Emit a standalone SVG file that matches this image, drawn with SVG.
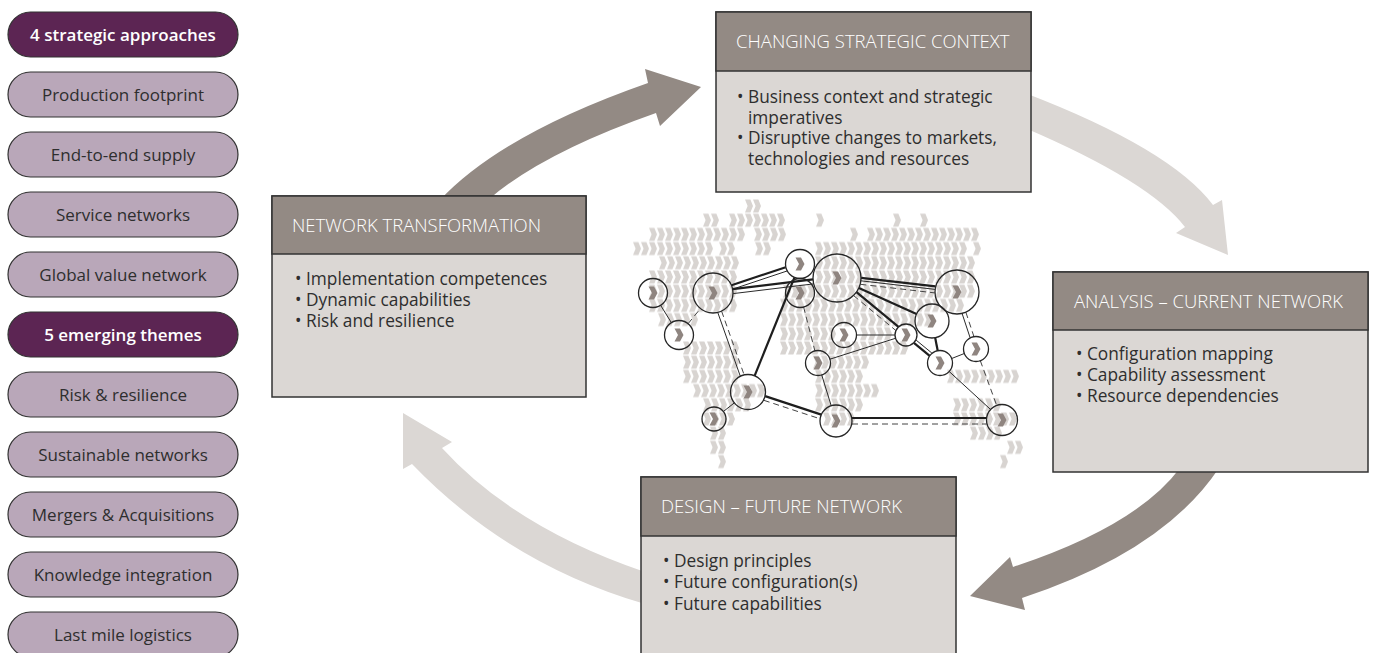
<svg xmlns="http://www.w3.org/2000/svg" width="1375" height="653" viewBox="0 0 1375 653">
  <defs>
    <style>
      .pill { stroke: #333; stroke-width: 1.2; }
      .pill.dark { fill: #5c2553; }
      .pill.light { fill: #b9a7b9; }
      .pt { font-family: "Open Sans", "Liberation Sans", sans-serif; font-size: 17px; text-anchor: middle; fill: #2e2e2e; }
      .pt.dk { fill: #ffffff; font-weight: 600; }
      .hd { fill: #938a84; stroke: #333; stroke-width: 1.5; }
      .bd { fill: #dbd7d4; stroke: #333; stroke-width: 1.5; }
      .ht { font-family: "Open Sans", "Liberation Sans", sans-serif; font-size: 18.5px; font-weight: 300; fill: #ffffff; }
      .bt { font-family: "Open Sans", "Liberation Sans", sans-serif; font-size: 17.3px; fill: #2e2e2e; }
      .arw-dark { fill: #938a84; }
      .arw-light { fill: #dbd7d4; }
      .chev-bg { fill: url(#chev); }
      .node { fill: none; stroke: #262626; stroke-width: 1.3; }
      .mark { fill: #8f8580; }
      .ln { stroke: #2a2a2a; stroke-width: 1; fill: none; }
      .ln.thick { stroke-width: 2.2; stroke: #1e1e1e; }
      .ln.dash { stroke: #444; stroke-dasharray: 6 4; }
    </style>
    <!-- one light chevron per 8px tile, rows are 14px tall -->
    <pattern id="chev" patternUnits="userSpaceOnUse" x="0" y="0" width="8" height="14">
      <polygon points="0,0.6 5.4,0.6 8,7 5.4,13.4 0,13.4 2.6,7" fill="#d8d4d1"/>
    </pattern>
    <polygon id="mk" points="-4.5,-6.5 1,-6.5 4.5,0 1,6.5 -4.5,6.5 -1,0"/>
  </defs>

  <rect width="1375" height="653" fill="#ffffff"/>

  <!-- left column: approaches and themes -->
  <g id="pills">
    <g id="pill-approaches"><rect class="pill dark" x="8" y="12" width="230" height="45" rx="22.5"/><text class="pt dk" x="123" y="40.5">4 strategic approaches</text></g>
    <g id="pill-production"><rect class="pill light" x="8" y="72" width="230" height="45" rx="22.5"/><text class="pt" x="123" y="100.5">Production footprint</text></g>
    <g id="pill-e2e"><rect class="pill light" x="8" y="132" width="230" height="45" rx="22.5"/><text class="pt" x="123" y="160.5">End-to-end supply</text></g>
    <g id="pill-service"><rect class="pill light" x="8" y="192" width="230" height="45" rx="22.5"/><text class="pt" x="123" y="220.5">Service networks</text></g>
    <g id="pill-gvn"><rect class="pill light" x="8" y="252" width="230" height="45" rx="22.5"/><text class="pt" x="123" y="280.5">Global value network</text></g>
    <g id="pill-themes"><rect class="pill dark" x="8" y="312" width="230" height="45" rx="22.5"/><text class="pt dk" x="123" y="340.5">5 emerging themes</text></g>
    <g id="pill-risk"><rect class="pill light" x="8" y="372" width="230" height="45" rx="22.5"/><text class="pt" x="123" y="400.5">Risk &amp; resilience</text></g>
    <g id="pill-sustain"><rect class="pill light" x="8" y="432" width="230" height="45" rx="22.5"/><text class="pt" x="123" y="460.5">Sustainable networks</text></g>
    <g id="pill-ma"><rect class="pill light" x="8" y="492" width="230" height="45" rx="22.5"/><text class="pt" x="123" y="520.5">Mergers &amp; Acquisitions</text></g>
    <g id="pill-knowledge"><rect class="pill light" x="8" y="552" width="230" height="45" rx="22.5"/><text class="pt" x="123" y="580.5">Knowledge integration</text></g>
    <g id="pill-lastmile"><rect class="pill light" x="8" y="612" width="230" height="45" rx="22.5"/><text class="pt" x="123" y="640.5">Last mile logistics</text></g>
  </g>

  <!-- cycle arrows -->
  <g id="connectors">
    <path id="arrow-transform-to-context" class="arw-dark" d="M440,200 Q502,134 648,83 L645,69 L701,87 L660,126 L656,113 Q542,153 488,200 Z"/>
    <path id="arrow-context-to-analysis" class="arw-light" d="M1025,93 Q1171,149 1213,205 L1222,200 L1228,255 L1176,233 L1185,227 Q1150,181.5 1025,128 Z"/>
    <path id="arrow-analysis-to-design" class="arw-dark" d="M1219,468 Q1163.5,551.3 1022,598 L1025,610 L970,596 L1010,557 L1013,567 Q1136.6,526.2 1180,468 Z"/>
    <path id="arrow-design-to-transform" class="arw-light" d="M645,604 Q508.3,564.2 412,464 L403,469 L403,413 L452,442 L442,448 Q514.5,527.7 645,572 Z"/>
  </g>

  <!-- stage boxes -->
  <g id="box-context">
    <rect class="bd" x="716" y="12" width="315" height="180"/>
    <rect class="hd" x="716" y="12" width="315" height="59"/>
    <text class="ht" x="736" y="48">CHANGING STRATEGIC CONTEXT</text>
    <text class="bt" x="737" y="103">• Business context and strategic</text>
    <text class="bt" x="748" y="123.5">imperatives</text>
    <text class="bt" x="737" y="144">• Disruptive changes to markets,</text>
    <text class="bt" x="748" y="164.5">technologies and resources</text>
  </g>
  <g id="box-transformation">
    <rect class="bd" x="272" y="196" width="314" height="201"/>
    <rect class="hd" x="272" y="196" width="314" height="58"/>
    <text class="ht" x="292" y="231.5">NETWORK TRANSFORMATION</text>
    <text class="bt" x="295" y="285">• Implementation competences</text>
    <text class="bt" x="295" y="306">• Dynamic capabilities</text>
    <text class="bt" x="295" y="327">• Risk and resilience</text>
  </g>
  <g id="box-analysis">
    <rect class="bd" x="1053" y="272" width="315" height="200"/>
    <rect class="hd" x="1053" y="272" width="315" height="58"/>
    <text class="ht" x="1074" y="307.5">ANALYSIS – CURRENT NETWORK</text>
    <text class="bt" x="1076" y="360">• Configuration mapping</text>
    <text class="bt" x="1076" y="381">• Capability assessment</text>
    <text class="bt" x="1076" y="402">• Resource dependencies</text>
  </g>
  <g id="box-design">
    <rect class="bd" x="641" y="477" width="315" height="200"/>
    <rect class="hd" x="641" y="477" width="315" height="59"/>
    <text class="ht" x="661" y="513">DESIGN – FUTURE NETWORK</text>
    <text class="bt" x="663" y="567">• Design principles</text>
    <text class="bt" x="663" y="588">• Future configuration(s)</text>
    <text class="bt" x="663" y="610">• Future capabilities</text>
  </g>

  <!-- world map built from chevron runs -->
  <g id="map">
    <rect class="chev-bg" transform="translate(745,199)" width="16" height="14"/>
    <rect class="chev-bg" transform="translate(703,213.2)" width="16" height="14"/>
    <rect class="chev-bg" transform="translate(729,213.2)" width="56" height="14"/>
    <rect class="chev-bg" transform="translate(816,213.2)" width="8" height="14"/>
    <rect class="chev-bg" transform="translate(893,213.2)" width="8" height="14"/>
    <rect class="chev-bg" transform="translate(920,213.2)" width="8" height="14"/>
    <rect class="chev-bg" transform="translate(649,227.4)" width="96" height="14"/>
    <rect class="chev-bg" transform="translate(754,227.4)" width="32" height="14"/>
    <rect class="chev-bg" transform="translate(850,227.4)" width="8" height="14"/>
    <rect class="chev-bg" transform="translate(867,227.4)" width="112" height="14"/>
    <rect class="chev-bg" transform="translate(633,241.6)" width="80" height="14"/>
    <rect class="chev-bg" transform="translate(719,241.6)" width="16" height="14"/>
    <rect class="chev-bg" transform="translate(755,241.6)" width="16" height="14"/>
    <rect class="chev-bg" transform="translate(815,241.6)" width="152" height="14"/>
    <rect class="chev-bg" transform="translate(973,241.6)" width="8" height="14"/>
    <rect class="chev-bg" transform="translate(659,255.8)" width="80" height="14"/>
    <rect class="chev-bg" transform="translate(815,255.8)" width="160" height="14"/>
    <rect class="chev-bg" transform="translate(649,270)" width="88" height="14"/>
    <rect class="chev-bg" transform="translate(815,270)" width="160" height="14"/>
    <rect class="chev-bg" transform="translate(649,284.2)" width="88" height="14"/>
    <rect class="chev-bg" transform="translate(783,284.2)" width="192" height="14"/>
    <rect class="chev-bg" transform="translate(649,298.4)" width="88" height="14"/>
    <rect class="chev-bg" transform="translate(780,298.4)" width="184" height="14"/>
    <rect class="chev-bg" transform="translate(658,312.6)" width="40" height="14"/>
    <rect class="chev-bg" transform="translate(780,312.6)" width="152" height="14"/>
    <rect class="chev-bg" transform="translate(780,326.8)" width="56" height="14"/>
    <rect class="chev-bg" transform="translate(860,326.8)" width="32" height="14"/>
    <rect class="chev-bg" transform="translate(683,341)" width="56" height="14"/>
    <rect class="chev-bg" transform="translate(780,341)" width="128" height="14"/>
    <rect class="chev-bg" transform="translate(683,355.2)" width="56" height="14"/>
    <rect class="chev-bg" transform="translate(813,355.2)" width="56" height="14"/>
    <rect class="chev-bg" transform="translate(683,369.4)" width="56" height="14"/>
    <rect class="chev-bg" transform="translate(815,369.4)" width="48" height="14"/>
    <rect class="chev-bg" transform="translate(947,369.4)" width="72" height="14"/>
    <rect class="chev-bg" transform="translate(693,383.6)" width="72" height="14"/>
    <rect class="chev-bg" transform="translate(815,383.6)" width="64" height="14"/>
    <rect class="chev-bg" transform="translate(703,397.8)" width="48" height="14"/>
    <rect class="chev-bg" transform="translate(815,397.8)" width="48" height="14"/>
    <rect class="chev-bg" transform="translate(953,397.8)" width="48" height="14"/>
    <rect class="chev-bg" transform="translate(703,412)" width="32" height="14"/>
    <rect class="chev-bg" transform="translate(823,412)" width="32" height="14"/>
    <rect class="chev-bg" transform="translate(953,412)" width="64" height="14"/>
    <rect class="chev-bg" transform="translate(710,426.2)" width="16" height="14"/>
    <rect class="chev-bg" transform="translate(970,426.2)" width="32" height="14"/>
    <rect class="chev-bg" transform="translate(710,440.4)" width="16" height="14"/>
    <rect class="chev-bg" transform="translate(1007,440.4)" width="16" height="14"/>
    <rect class="chev-bg" transform="translate(718,454.6)" width="8" height="14"/>
    <rect class="chev-bg" transform="translate(1000,454.6)" width="8" height="14"/>
  </g>

  <!-- links between sites -->
  <g id="links">
    <line class="ln" x1="660.6" y1="305.3" x2="671.4" y2="322.7"/>
    <line class="ln dash" x1="688.1" y1="323.7" x2="700.4" y2="308.6"/>
    <line class="ln thick" x1="731.5" y1="285.3" x2="785.7" y2="267.2"/>
    <line class="ln" x1="732.8" y1="289.1" x2="787" y2="271"/>
    <line class="ln thick" x1="732.7" y1="289.1" x2="813" y2="279.4"/>
    <line class="ln" x1="733.2" y1="293.6" x2="813.5" y2="283.9"/>
    <line class="ln" x1="717.8" y1="312.6" x2="740.3" y2="376.2"/>
    <line class="ln dash" x1="721.6" y1="311.2" x2="744.1" y2="374.8"/>
    <line class="ln thick" x1="794.5" y1="277.4" x2="754.6" y2="375.8"/>
    <line class="ln dash" x1="803.6" y1="307" x2="814.9" y2="350.9"/>
    <line class="ln thick" x1="861.1" y1="277.8" x2="935.5" y2="286.4"/>
    <line class="ln" x1="860.8" y1="280.8" x2="935.2" y2="289.4"/>
    <line class="ln dash" x1="860.4" y1="284.3" x2="934.8" y2="292.9"/>
    <line class="ln thick" x1="856.5" y1="292.1" x2="898.5" y2="326.8"/>
    <line class="ln dash" x1="853.6" y1="295.6" x2="895.6" y2="330.3"/>
    <line class="ln thick" x1="858.9" y1="287.9" x2="916.5" y2="314"/>
    <line class="ln" x1="856.5" y1="335" x2="895" y2="335"/>
    <line class="ln" x1="829.9" y1="359.2" x2="895.5" y2="338.3"/>
    <line class="ln thick" x1="913.9" y1="342.8" x2="929.7" y2="355.8"/>
    <line class="ln" x1="916.1" y1="340.1" x2="931.9" y2="353.1"/>
    <line class="ln thick" x1="935.2" y1="337.7" x2="937.7" y2="350.7"/>
    <line class="ln" x1="951.7" y1="358.5" x2="964.3" y2="353.5"/>
    <line class="ln" x1="962.1" y1="313.5" x2="970.1" y2="337.7"/>
    <line class="ln dash" x1="965.9" y1="312.3" x2="973.9" y2="336.5"/>
    <line class="ln dash" x1="980.3" y1="360.7" x2="996.7" y2="405.4"/>
    <line class="ln" x1="949.2" y1="371.5" x2="990.6" y2="409.5"/>
    <line class="ln" x1="821.7" y1="374.9" x2="831.2" y2="405.7"/>
    <line class="ln thick" x1="765.1" y1="396.1" x2="821.3" y2="414.6"/>
    <line class="ln dash" x1="763.8" y1="400.3" x2="820" y2="418.8"/>
    <line class="ln thick" x1="852" y1="418" x2="986.5" y2="418"/>
    <line class="ln dash" x1="852" y1="424" x2="986.5" y2="424"/>
    <line class="ln" x1="734.3" y1="402.9" x2="723.4" y2="411.5"/>
  </g>

  <!-- sites -->
  <g id="sites">
    <g id="site-a"><circle class="node" cx="653" cy="293" r="14.5"/><use href="#mk" class="mark" x="653" y="293"/></g>
    <g id="site-b"><circle class="node" cx="679" cy="335" r="14.5"/><use href="#mk" class="mark" x="679" y="335"/></g>
    <g id="site-c"><circle class="node" cx="713" cy="293" r="20"/><use href="#mk" class="mark" x="713" y="293"/></g>
    <g id="site-d"><circle class="node" cx="800" cy="264" r="14.5"/><use href="#mk" class="mark" x="800" y="264"/></g>
    <g id="site-e"><circle class="node" cx="800" cy="293" r="14.5"/><use href="#mk" class="mark" x="800" y="293"/></g>
    <g id="site-f"><circle class="node" cx="837" cy="278" r="24"/><use href="#mk" class="mark" x="837" y="278"/></g>
    <g id="site-g"><circle class="node" cx="957" cy="292" r="22"/><use href="#mk" class="mark" x="957" y="292"/></g>
    <g id="site-h"><circle class="node" cx="932" cy="321" r="17"/><use href="#mk" class="mark" x="932" y="321"/></g>
    <g id="site-i"><circle class="node" cx="844" cy="335" r="12.5"/><use href="#mk" class="mark" x="844" y="335"/></g>
    <g id="site-j"><circle class="node" cx="906" cy="335" r="11"/><use href="#mk" class="mark" x="906" y="335"/></g>
    <g id="site-k"><circle class="node" cx="818" cy="363" r="12.5"/><use href="#mk" class="mark" x="818" y="363"/></g>
    <g id="site-l"><circle class="node" cx="940" cy="363" r="12.5"/><use href="#mk" class="mark" x="940" y="363"/></g>
    <g id="site-m"><circle class="node" cx="976" cy="349" r="12.5"/><use href="#mk" class="mark" x="976" y="349"/></g>
    <g id="site-n"><circle class="node" cx="748" cy="392" r="17.5"/><use href="#mk" class="mark" x="748" y="392"/></g>
    <g id="site-o"><circle class="node" cx="714" cy="419" r="12"/><use href="#mk" class="mark" x="714" y="419"/></g>
    <g id="site-p"><circle class="node" cx="836" cy="421" r="16"/><use href="#mk" class="mark" x="836" y="421"/></g>
    <g id="site-q"><circle class="node" cx="1002" cy="420" r="15.5"/><use href="#mk" class="mark" x="1002" y="420"/></g>
  </g>
</svg>
